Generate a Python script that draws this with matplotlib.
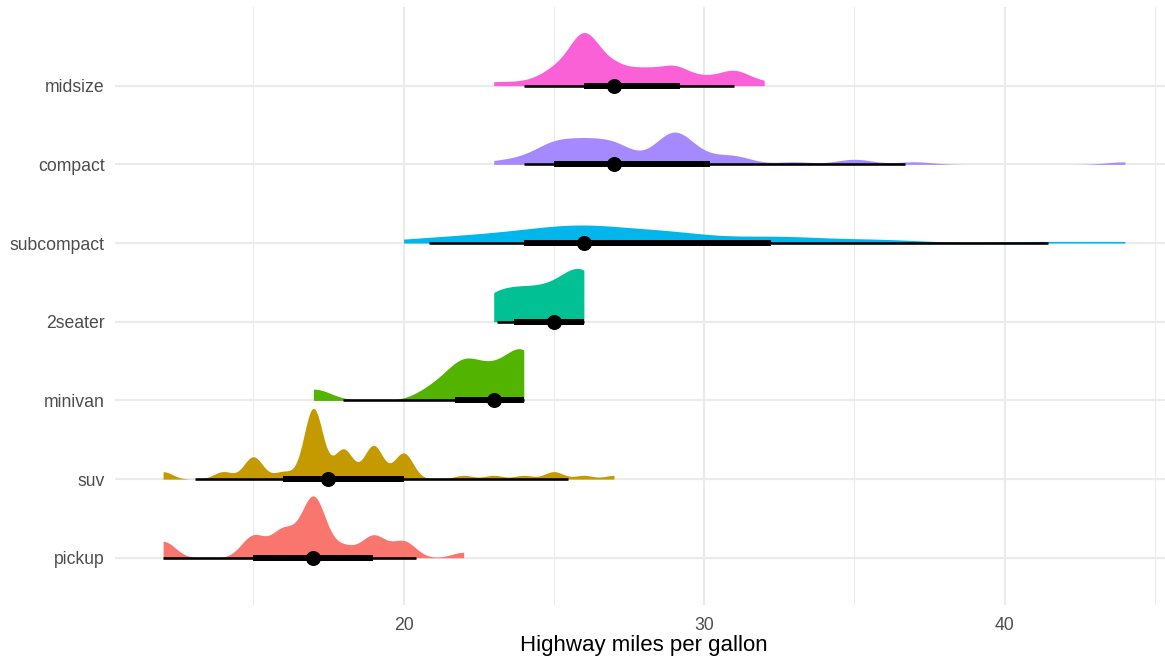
import numpy as np
import matplotlib
matplotlib.use("Agg")
import matplotlib.pyplot as plt
from math import erf

# Vehicle classes (bottom to top, ordered by median highway mpg) and fills
categories = ["pickup", "suv", "minivan", "2seater", "subcompact", "compact", "midsize"]
fill_colors = ["#F8766D", "#C49A00", "#53B400", "#00C094", "#00B6EB", "#A58AFF", "#FB61D7"]

# Highway miles per gallon for each car in each class
hwy_pickup = [19, 18, 17, 17, 19, 19, 12, 17, 15,
              16, 12, 17, 16, 12, 15, 16, 17, 15, 17,
              17, 17, 16, 16, 17, 15, 17,
              20, 20, 22, 17, 19, 18, 20]
hwy_suv = [20, 15, 20, 17, 17,
           19, 14, 15, 17,
           17, 17, 12, 17, 16, 18, 15,
           17, 17, 18,
           19, 17, 17, 19, 19, 17,
           22, 19, 20, 17, 19, 12, 18, 14,
           15, 18, 18, 15,
           17, 16, 18,
           17, 19, 19, 17,
           17, 17, 20, 18,
           25, 24, 27, 25, 26, 23,
           20, 20, 19, 17, 20, 17,
           15, 18]
hwy_minivan = [24, 24, 22, 22, 24, 24, 17, 22, 21, 23, 23]
hwy_2seater = [26, 23, 26, 25, 24]
hwy_subcompact = [26, 25, 26, 24, 21, 22, 23, 22, 20,
                  33, 32, 32, 29, 32, 34, 36, 36, 29,
                  26, 29, 28, 27, 24, 24, 24,
                  44, 41, 29, 26, 28, 29,
                  26, 26, 26, 26]
hwy_compact = [29, 29, 31, 30, 26, 26, 27,
               26, 25, 28, 27, 25, 25, 25, 25,
               29, 27,
               27, 29, 31, 31, 26, 26, 27,
               30, 33, 35, 37, 35,
               29, 26, 29, 29, 24,
               44, 29, 26, 29, 29, 29, 29, 23, 24,
               25, 27, 25, 27]
hwy_midsize = [24, 25, 23,
               27, 30, 26, 29, 26,
               26, 27, 30, 31, 26, 26, 28,
               31, 32, 27, 26,
               26, 25, 25,
               26, 26, 27, 28, 25,
               29, 27, 31, 31, 26, 26, 28,
               29, 29, 28, 29, 26, 26, 26]

hwy_by_class = [hwy_pickup, hwy_suv, hwy_minivan, hwy_2seater,
                hwy_subcompact, hwy_compact, hwy_midsize]

interval_widths = [0.66, 0.95]
bw_adjust = 0.66
slab_scale = 0.9


def bw_sj_dpi(x, nb=1000):
    """Sheather-Jones direct plug-in bandwidth (binned, as in R's bw.SJ)."""
    x = np.asarray(x, float)
    n = len(x)
    dd = (x.max() - x.min()) * 1.01 / nb
    idx = (x / dd).astype(int)
    cnt = np.zeros(nb)
    ii, jj = np.tril_indices(n, -1)
    np.add.at(cnt, np.abs(idx[ii] - idx[jj]), 1.0)
    k = np.arange(nb)

    def phi4(h):
        delta = (k * dd / h) ** 2
        m = delta < 1000
        term = np.exp(-delta[m] / 2) * (delta[m] ** 2 - 6 * delta[m] + 3)
        s = 2 * np.sum(term * cnt[m]) + 3 * n
        return s / (n * (n - 1) * h ** 5 * np.sqrt(2 * np.pi))

    def phi6(h):
        delta = (k * dd / h) ** 2
        m = delta < 1000
        term = np.exp(-delta[m] / 2) * (delta[m] ** 3 - 15 * delta[m] ** 2
                                        + 45 * delta[m] - 15)
        s = 2 * np.sum(term * cnt[m]) - 15 * n
        return s / (n * (n - 1) * h ** 7 * np.sqrt(2 * np.pi))

    q25, q75 = np.quantile(x, [0.25, 0.75])
    scale = min(np.std(x, ddof=1), (q75 - q25) / 1.349)
    b = 1.23 * scale * n ** (-1 / 9)
    c1 = 1 / (2 * np.sqrt(np.pi) * n)
    td = -phi6(b)
    if not np.isfinite(td) or td <= 0:
        return 0.9 * min(np.std(x, ddof=1), (q75 - q25) / 1.34) * n ** (-0.2)
    return (c1 / phi4((2.394 / (n * td)) ** (1 / 7))) ** (1 / 5)


def kde(x, grid, bw):
    x = np.asarray(x, float)
    z = (grid[:, None] - x[None, :]) / bw
    return np.exp(-0.5 * z ** 2).sum(axis=1) / (len(x) * bw * np.sqrt(2 * np.pi))


def kde_cdf(x, t, bw):
    return np.mean([0.5 * (1 + erf((t - xi) / (bw * np.sqrt(2)))) for xi in x])


def cdf_bounds(x, bw, p=0.01):
    """Bounds where the min / max order statistic reaches probability p."""
    x = np.asarray(x, float)
    n = len(x)
    target_lo = 1 - (1 - p) ** (1 / n)
    target_hi = (1 - p) ** (1 / n)
    lo_a, lo_b = x.min() - 20 * bw, x.min()
    for _ in range(80):
        mid = 0.5 * (lo_a + lo_b)
        if kde_cdf(x, mid, bw) < target_lo:
            lo_a = mid
        else:
            lo_b = mid
    hi_a, hi_b = x.max(), x.max() + 20 * bw
    for _ in range(80):
        mid = 0.5 * (hi_a + hi_b)
        if kde_cdf(x, mid, bw) > target_hi:
            hi_b = mid
        else:
            hi_a = mid
    return 0.5 * (lo_a + lo_b), 0.5 * (hi_a + hi_b)


def bounded_density(x, n_grid=501):
    x = np.asarray(x, float)
    bw = bw_sj_dpi(x) * bw_adjust
    lo, hi = cdf_bounds(x, bw)
    grid = np.linspace(x.min(), x.max(), n_grid)
    dens = kde(x, grid, bw) + kde(x, 2 * lo - grid, bw) + kde(x, 2 * hi - grid, bw)
    return grid, dens


densities = [bounded_density(v) for v in hwy_by_class]
dens_max = max(d.max() for _, d in densities)

fig = plt.figure(figsize=(11.65, 6.6), dpi=100)
W, H = 1165, 660
left_px, right_px, top_px, bottom_px = 115, 1173, 7, 605
ax = fig.add_axes([left_px / W, 1 - bottom_px / H,
                   (right_px - left_px) / W, (bottom_px - top_px) / H])

for i, (vals, (grid, dens), col) in enumerate(zip(hwy_by_class, densities, fill_colors)):
    y = i + 1
    z = 3 + i
    ax.fill_between(grid, y, y + slab_scale * dens / dens_max, color=col,
                    linewidth=0, zorder=z)
    w_hi, w_lo = max(interval_widths), min(interval_widths)
    lo95, hi95 = np.quantile(vals, [(1 - w_hi) / 2, 1 - (1 - w_hi) / 2])
    lo66, hi66 = np.quantile(vals, [(1 - w_lo) / 2, 1 - (1 - w_lo) / 2])
    med = np.median(vals)
    ax.plot([lo95, hi95], [y, y], color="black", lw=1.87,
            solid_capstyle="butt", zorder=z + 0.1)
    ax.plot([lo66, hi66], [y, y], color="black", lw=4.3,
            solid_capstyle="butt", zorder=z + 0.2)
    ax.plot([med], [y], marker="o", ms=10.8, color="black",
            markeredgewidth=0, zorder=z + 0.3)

ax.set_xlim(10.4, 45.6)
ax.set_ylim(0.4, 8.0)
ax.set_xticks([20, 30, 40])
ax.set_xticks([15, 25, 35, 45], minor=True)
ax.set_yticks(np.arange(1, len(categories) + 1))
ax.set_yticklabels(categories)

for s in ax.spines.values():
    s.set_visible(False)
ax.set_axisbelow(True)
ax.grid(which="major", axis="both", color="#EBEBEB", lw=1.55)
ax.grid(which="minor", axis="x", color="#EBEBEB", lw=0.77)
ax.tick_params(which="both", length=0)
ax.tick_params(axis="y", pad=7.5, labelsize=12.7, labelcolor="#4D4D4D")
ax.tick_params(axis="x", pad=8.5, labelsize=12.7, labelcolor="#4D4D4D")
for lab in ax.get_xticklabels() + ax.get_yticklabels():
    lab.set_family("Liberation Sans")

ax.set_xlabel("Highway miles per gallon", fontsize=16, family="Liberation Sans",
              color="black", labelpad=1)

fig.savefig("out.png", dpi=100)
